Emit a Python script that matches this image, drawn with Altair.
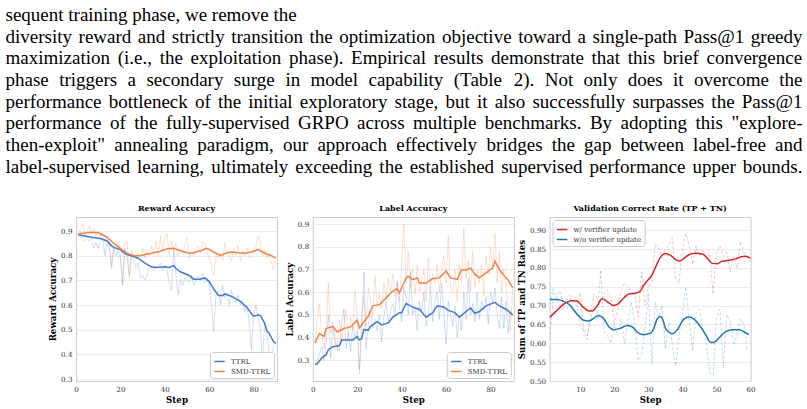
import altair as alt
import pandas as pd

# ---------------- paragraph text ----------------
PARA_LINES = [
    "sequent training phase, we remove the",
    "diversity reward and strictly transition the optimization objective toward a single-path Pass@1 greedy",
    "maximization (i.e., the exploitation phase). Empirical results demonstrate that this brief convergence",
    "phase triggers a secondary surge in model capability (Table 2).  Not only does it overcome the",
    "performance bottleneck of the initial exploratory stage, but it also successfully surpasses the Pass@1",
    "performance of the fully-supervised GRPO across multiple benchmarks. By adopting this \"explore-",
    "then-exploit\" annealing paradigm, our approach effectively bridges the gap between label-free and",
    "label-supervised learning, ultimately exceeding the established supervised performance upper bounds.",
]

# ---------------- Reward Accuracy ----------------
RA_STEPS = list(range(1, 91))
RA_TTRL_RAW = [
    0.880, 0.895, 0.870, 0.860, 0.875, 0.860, 0.870, 0.830, 0.855, 0.830,
    0.860, 0.870, 0.800, 0.850, 0.830, 0.750, 0.830, 0.800, 0.820, 0.790,
    0.680, 0.830, 0.790, 0.720, 0.800, 0.780, 0.750, 0.770, 0.710, 0.720,
    0.700, 0.720, 0.760, 0.750, 0.740, 0.760, 0.750, 0.770, 0.740, 0.760,
    0.740, 0.690, 0.660, 0.830, 0.720, 0.640, 0.700, 0.680, 0.710, 0.700,
    0.690, 0.720, 0.680, 0.700, 0.720, 0.700, 0.730, 0.690, 0.700, 0.680,
    0.600, 0.490, 0.640, 0.660, 0.600, 0.680, 0.630, 0.650, 0.600, 0.660,
    0.620, 0.610, 0.640, 0.600, 0.620, 0.570, 0.600, 0.520, 0.420, 0.560,
    0.600, 0.550, 0.500, 0.380, 0.530, 0.480, 0.400, 0.380, 0.430, 0.440,
]
RA_SMD_RAW = [
    0.890, 0.910, 0.930, 0.880, 0.900, 0.920, 0.890, 0.910, 0.880, 0.900,
    0.880, 0.890, 0.860, 0.870, 0.850, 0.760, 0.840, 0.830, 0.860, 0.810,
    0.690, 0.850, 0.860, 0.710, 0.820, 0.800, 0.790, 0.810, 0.800, 0.830,
    0.790, 0.820, 0.800, 0.840, 0.810, 0.860, 0.800, 0.880, 0.820, 0.870,
    0.890, 0.800, 0.860, 0.820, 0.850, 0.800, 0.830, 0.810, 0.850, 0.870,
    0.790, 0.820, 0.800, 0.830, 0.840, 0.810, 0.860, 0.850, 0.820, 0.790,
    0.760, 0.720, 0.800, 0.790, 0.810, 0.780, 0.850, 0.820, 0.800, 0.780,
    0.830, 0.800, 0.840, 0.780, 0.820, 0.800, 0.830, 0.790, 0.800, 0.820,
    0.840, 0.880, 0.860, 0.800, 0.820, 0.790, 0.810, 0.770, 0.740, 0.790,
]
RA_TTRL_SM_STEPS = [1, 4, 7, 11, 14, 16, 18, 20, 21, 23, 25, 28, 31, 34, 36, 40, 42, 44, 45, 47,
                    51, 53, 56, 58, 60, 62, 64, 66, 67, 70, 72, 74, 77, 79, 80, 82, 83, 85, 86, 87, 89, 90]
RA_TTRL_SM = [0.885, 0.880, 0.875, 0.870, 0.860, 0.840, 0.830, 0.825, 0.815, 0.805, 0.800, 0.790,
              0.770, 0.755, 0.752, 0.755, 0.752, 0.760, 0.748, 0.735, 0.720, 0.705, 0.705, 0.710,
              0.695, 0.665, 0.640, 0.638, 0.645, 0.635, 0.625, 0.615, 0.590, 0.565, 0.555, 0.560,
              0.558, 0.525, 0.495, 0.485, 0.450, 0.445]
RA_SMD_SM_STEPS = [1, 4, 7, 10, 12, 14, 17, 20, 23, 26, 29, 31, 34, 38, 41, 44, 47, 50, 52, 56,
                   59, 62, 65, 68, 70, 73, 76, 79, 82, 85, 88, 90]
RA_SMD_SM = [0.888, 0.892, 0.895, 0.893, 0.885, 0.875, 0.850, 0.830, 0.810, 0.800, 0.800, 0.805,
             0.810, 0.818, 0.828, 0.830, 0.820, 0.812, 0.810, 0.820, 0.830, 0.815, 0.800, 0.812,
             0.815, 0.812, 0.810, 0.815, 0.825, 0.810, 0.800, 0.790]

# ---------------- Label Accuracy ----------------
LA_STEPS = list(range(1, 91))
LA_TTRL_RAW = [
    0.280, 0.300, 0.330, 0.360, 0.300, 0.380, 0.500, 0.310, 0.450, 0.380,
    0.360, 0.340, 0.460, 0.530, 0.350, 0.420, 0.340, 0.450, 0.400, 0.430,
    0.260, 0.420, 0.690, 0.350, 0.460, 0.520, 0.440, 0.480, 0.430, 0.500,
    0.380, 0.490, 0.560, 0.470, 0.520, 0.550, 0.500, 0.650, 0.540, 0.470,
    0.620, 0.580, 0.500, 0.690, 0.500, 0.540, 0.430, 0.560, 0.510, 0.600,
    0.450, 0.500, 0.620, 0.470, 0.560, 0.600, 0.480, 0.640, 0.510, 0.370,
    0.560, 0.500, 0.450, 0.540, 0.400, 0.500, 0.430, 0.600, 0.480, 0.660,
    0.500, 0.550, 0.470, 0.600, 0.480, 0.560, 0.520, 0.580, 0.460, 0.600,
    0.550, 0.620, 0.500, 0.440, 0.580, 0.440, 0.560, 0.420, 0.520, 0.500,
]
LA_SMD_RAW = [
    0.380, 0.480, 0.550, 0.420, 0.350, 0.440, 0.640, 0.420, 0.470, 0.400,
    0.340, 0.480, 0.380, 0.460, 0.520, 0.410, 0.490, 0.440, 0.610, 0.480,
    0.240, 0.500, 0.580, 0.450, 0.620, 0.560, 0.500, 0.670, 0.540, 0.600,
    0.530, 0.640, 0.580, 0.660, 0.600, 0.680, 0.580, 0.640, 0.560, 0.720,
    0.900, 0.640, 0.780, 0.620, 0.700, 0.590, 0.720, 0.600, 0.650, 0.700,
    0.560, 0.750, 0.620, 0.680, 0.640, 0.720, 0.600, 0.700, 0.760, 0.640,
    0.850, 0.620, 0.600, 0.700, 0.560, 0.720, 0.640, 0.880, 0.660, 0.740,
    0.600, 0.780, 0.620, 0.700, 0.640, 0.720, 0.580, 0.760, 0.680, 0.800,
    0.700, 0.860, 0.640, 0.780, 0.600, 0.700, 0.620, 0.540, 0.430, 0.620,
]
LA_TTRL_SM_STEPS = [1, 2, 4, 6, 7, 9, 12, 13, 16, 18, 20, 21, 22, 23, 25, 26, 29, 31, 34, 36, 39,
                    40, 42, 44, 46, 48, 51, 54, 56, 59, 61, 64, 66, 69, 71, 73, 75, 78, 82, 84, 87, 90]
LA_TTRL_SM = [0.282, 0.285, 0.310, 0.325, 0.347, 0.360, 0.365, 0.390, 0.390, 0.390, 0.405, 0.390,
              0.395, 0.435, 0.433, 0.450, 0.470, 0.456, 0.465, 0.490, 0.510, 0.510, 0.550, 0.540,
              0.530, 0.525, 0.490, 0.510, 0.540, 0.535, 0.520, 0.510, 0.490, 0.515, 0.530, 0.507,
              0.515, 0.540, 0.555, 0.540, 0.525, 0.500]
LA_SMD_SM_STEPS = [1, 3, 5, 6, 9, 11, 14, 17, 20, 21, 24, 25, 27, 30, 33, 36, 38, 39, 42, 43, 45,
                   47, 48, 51, 54, 57, 60, 62, 65, 67, 69, 71, 73, 75, 78, 81, 82, 84, 87, 88, 90]
LA_SMD_SM = [0.377, 0.418, 0.405, 0.440, 0.450, 0.425, 0.440, 0.447, 0.477, 0.443, 0.483, 0.495,
             0.540, 0.545, 0.575, 0.605, 0.615, 0.597, 0.663, 0.670, 0.655, 0.663, 0.640, 0.640,
             0.660, 0.663, 0.693, 0.663, 0.656, 0.700, 0.697, 0.707, 0.678, 0.663, 0.685, 0.707,
             0.737, 0.700, 0.663, 0.653, 0.620]

# ---------------- Validation Correct Rate ----------------
VC_RED_STEPS = list(range(1, 61))
VC_RED_RAW = [
    0.61, 0.71, 0.72, 0.70, 0.69, 0.72, 0.73, 0.72, 0.71, 0.735,
    0.63, 0.61, 0.68, 0.73, 0.72, 0.71, 0.73, 0.74, 0.72, 0.65,
    0.69, 0.74, 0.76, 0.75, 0.74, 0.73, 0.67, 0.79, 0.70, 0.75,
    0.76, 0.865, 0.85, 0.83, 0.85, 0.86, 0.88, 0.77, 0.76, 0.85,
    0.89, 0.86, 0.81, 0.86, 0.83, 0.85, 0.82, 0.84, 0.73, 0.84,
    0.86, 0.83, 0.84, 0.79, 0.83, 0.80, 0.87, 0.84, 0.83, 0.815,
]
VC_BLUE_STEPS = list(range(1, 60))
VC_BLUE_RAW = [
    0.69, 0.745, 0.72, 0.74, 0.70, 0.69, 0.72, 0.71, 0.70, 0.64,
    0.64, 0.62, 0.66, 0.70, 0.66, 0.795, 0.63, 0.62, 0.60, 0.65,
    0.62, 0.665, 0.60, 0.66, 0.71, 0.65, 0.555, 0.57, 0.64, 0.73,
    0.545, 0.71, 0.67, 0.70, 0.585, 0.655, 0.60, 0.54, 0.62, 0.68,
    0.75, 0.66, 0.58, 0.68, 0.69, 0.64, 0.60, 0.52, 0.515, 0.67,
    0.69, 0.535, 0.675, 0.66, 0.595, 0.62, 0.665, 0.65, 0.58,
]
VC_RED_SM_STEPS = [1, 3, 5, 7.5, 9, 11, 12.5, 13.5, 15, 16.4, 17, 18.3, 19.8, 21.3, 22.8, 24.2, 26.2,
                   27.5, 28.6, 30, 31, 32, 33.5, 35, 36.5, 38, 39.2, 40.4, 41.9, 43.8, 45.8, 47.3,
                   48.7, 50.2, 51.7, 53.6, 55.6, 57, 58.5, 60]
VC_RED_SM = [0.668, 0.686, 0.703, 0.713, 0.712, 0.695, 0.686, 0.686, 0.700, 0.718, 0.716, 0.708,
             0.700, 0.706, 0.720, 0.731, 0.733, 0.737, 0.754, 0.769, 0.780, 0.800, 0.828, 0.838,
             0.833, 0.822, 0.818, 0.825, 0.835, 0.839, 0.837, 0.826, 0.812, 0.811, 0.818, 0.820,
             0.824, 0.829, 0.831, 0.826]
VC_BLUE_SM_STEPS = [1, 3, 5, 7, 9, 11, 12.5, 14, 15.4, 16.9, 18.4, 19.8, 21.8, 23.7, 25.2, 26.7,
                    28.6, 30.6, 31.6, 32.6, 33.5, 34.3, 35, 36, 37, 38.5, 40.4, 41.9, 43.4, 45.3,
                    46.8, 48.3, 49.2, 50.7, 52.7, 54.6, 56.6, 58.1, 59.5]
VC_BLUE_SM = [0.716, 0.716, 0.712, 0.701, 0.678, 0.661, 0.659, 0.667, 0.674, 0.665, 0.644, 0.636,
              0.640, 0.647, 0.644, 0.630, 0.623, 0.627, 0.640, 0.665, 0.671, 0.661, 0.640, 0.630,
              0.625, 0.636, 0.664, 0.670, 0.664, 0.644, 0.623, 0.602, 0.602, 0.614, 0.631, 0.636,
              0.636, 0.630, 0.623]

PANEL_TITLES = ["Reward Accuracy", "Label Accuracy", "Validation Correct Rate (TP + TN)"]

# ---------------- styling ----------------
FONT = "DejaVu Serif"
MUTED_BLUE, MUTED_ORANGE = "#4878d0", "#ee854a"
TAB_RED, TAB_BLUE = "#d62728", "#1f77b4"

# Times-compatible advance widths (per 1000 em) for justifying the paragraph
TW = dict(zip("abcdefghijklmnopqrstuvwxyz",
              [444, 500, 444, 500, 444, 333, 500, 500, 278, 278, 500, 278, 778, 500, 500, 500,
               500, 333, 389, 278, 500, 500, 722, 500, 500, 444]))
TW.update(dict(zip("ABCDEFGHIJKLMNOPQRSTUVWXYZ",
                   [722, 667, 667, 722, 611, 556, 722, 722, 333, 389, 722, 611, 889, 722, 722,
                    556, 722, 667, 556, 611, 722, 722, 944, 722, 722, 611])))
TW.update({" ": 250, ".": 250, ",": 250, "(": 333, ")": 333, "-": 333, "@": 921, '"': 408,
           ":": 278, ";": 278})
for d in "0123456789":
    TW[d] = 500

FS = 19
TX0, TX1 = 5, 802
BASE0, LSTEP = 20, 21.65
OX, OY = 75.5, 216  # plot origin of the first panel
W, H = 201, 164


def tw(word):
    return sum(TW.get(c, 500) for c in word) / 1000 * FS


rows = []
for i, line in enumerate(PARA_LINES):
    words = line.split()
    widths = [tw(w) for w in words]
    gap = 0.25 * FS if i == 0 else (TX1 - TX0 - sum(widths)) / (len(words) - 1)
    x = TX0
    for w, wd in zip(words, widths):
        rows.append({"px": x - OX, "py": BASE0 + i * LSTEP - OY, "word": w})
        x += wd + gap
para_df = pd.DataFrame(rows)


def long_df(pairs):
    out = []
    for name, steps, vals in pairs:
        for s, v in zip(steps, vals):
            out.append({"step": s, "value": v, "series": name})
    return pd.DataFrame(out)


def panel(title, raw_pairs, sm_pairs, names, colors, xdom, xticks, ydom, yticks, yfmt,
          ytitle, legend_orient, dashed, raw_opacity):
    raw_df = long_df(raw_pairs)
    sm_df = long_df(sm_pairs)
    x = alt.X("step:Q", scale=alt.Scale(domain=xdom, nice=False, zero=False),
              axis=alt.Axis(values=xticks, title="Step", grid=False, format="d",
                            labelFlush=False, labelOverlap=False))
    y = alt.Y("value:Q", scale=alt.Scale(domain=ydom, nice=False, zero=False),
              axis=alt.Axis(values=yticks, format=yfmt, title=ytitle, grid=True,
                            labelFlush=False, labelOverlap=False))
    cscale = alt.Scale(domain=names, range=colors)
    leg = alt.Legend(title=None, orient=legend_orient, offset=3, fillColor="white",
                     strokeColor="#cccccc", cornerRadius=3, padding=3, labelFont=FONT,
                     labelFontSize=7, labelColor="#333333", symbolType="stroke",
                     symbolStrokeWidth=1.6, symbolSize=110, symbolOpacity=1,
                     symbolDash=[1, 0], rowPadding=0, labelOffset=5)
    color = alt.Color("series:N", scale=cscale, sort=names, legend=leg)
    raw_kw = dict(strokeWidth=0.9, opacity=raw_opacity, clip=True)
    if dashed:
        raw_kw["strokeDash"] = [3, 2]
    raw = alt.Chart(raw_df).mark_line(**raw_kw).encode(x=x, y=y, color=color)
    sm_interp = "monotone" if dashed else "linear"
    sm = alt.Chart(sm_df).mark_line(strokeWidth=1.5, clip=True, interpolate=sm_interp).encode(
        x=x, y=y, color=color)
    ttl = alt.Chart(pd.DataFrame({"t": [title]})).mark_text(
        font=FONT, fontSize=8, fontWeight="bold", color="black", align="center",
        baseline="alphabetic").encode(x=alt.value(W / 2), y=alt.value(-6), text="t:N")
    return [raw, sm, ttl]


L1 = panel(PANEL_TITLES[0],
           [("TTRL", RA_STEPS, RA_TTRL_RAW), ("SMD-TTRL", RA_STEPS, RA_SMD_RAW)],
           [("TTRL", RA_TTRL_SM_STEPS, RA_TTRL_SM), ("SMD-TTRL", RA_SMD_SM_STEPS, RA_SMD_SM)],
           ["TTRL", "SMD-TTRL"], [MUTED_BLUE, MUTED_ORANGE],
           [0, 90.5], [0, 20, 40, 60, 80], [0.292, 0.957],
           [0.3, 0.4, 0.5, 0.6, 0.7, 0.8, 0.9], ".1f", "Reward Accuracy",
           "bottom-right", False, 0.28)
L2 = panel(PANEL_TITLES[1],
           [("TTRL", LA_STEPS, LA_TTRL_RAW), ("SMD-TTRL", LA_STEPS, LA_SMD_RAW)],
           [("TTRL", LA_TTRL_SM_STEPS, LA_TTRL_SM), ("SMD-TTRL", LA_SMD_SM_STEPS, LA_SMD_SM)],
           ["TTRL", "SMD-TTRL"], [MUTED_BLUE, MUTED_ORANGE],
           [0, 90.5], [0, 20, 40, 60, 80], [0.209, 0.931],
           [0.3, 0.4, 0.5, 0.6, 0.7, 0.8, 0.9], ".1f", "Label Accuracy",
           "bottom-right", False, 0.28)
L3 = panel(PANEL_TITLES[2],
           [("w/ verifier update", VC_RED_STEPS, VC_RED_RAW),
            ("w/o verifier update", VC_BLUE_STEPS, VC_BLUE_RAW)],
           [("w/ verifier update", VC_RED_SM_STEPS, VC_RED_SM),
            ("w/o verifier update", VC_BLUE_SM_STEPS, VC_BLUE_SM)],
           ["w/ verifier update", "w/o verifier update"], [TAB_RED, TAB_BLUE],
           [1, 60], [10, 20, 30, 40, 50, 60], [0.5, 0.935],
           [0.5, 0.55, 0.6, 0.65, 0.7, 0.75, 0.8, 0.85, 0.9], ".2f",
           "Sum of TP and TN Rates", "top-left", True, 0.3)

para = alt.Chart(para_df).mark_text(font="Liberation Serif", fontSize=FS, align="left",
                                    baseline="alphabetic", color="black").encode(
    x=alt.X("px:Q", scale=None), y=alt.Y("py:Q", scale=None), text="word:N")

p1 = alt.layer(*L1, para).properties(width=W, height=H)
p2 = alt.layer(*L2).properties(width=W, height=H)
p3 = alt.layer(*L3).properties(width=W, height=H)

chart = alt.hconcat(p1, p2, p3, spacing=35.8, bounds="flush").resolve_scale(
    x="independent", y="independent", color="independent"
).resolve_legend(color="independent").properties(
    padding={"left": 5, "top": 5, "right": 0, "bottom": 0}
).configure_view(
    stroke="#cccccc", strokeWidth=1
).configure_axis(
    labelFont=FONT, labelFontSize=7.2, labelColor="#333333", titleFont=FONT,
    titleFontSize=8.7, titleFontWeight="bold", titleColor="black", ticks=False,
    domain=False, gridColor="#e6e6e6", gridWidth=0.8, labelPadding=4, titlePadding=3
)

chart.save("out.html", embed_options={"renderer": "svg", "actions": False})
